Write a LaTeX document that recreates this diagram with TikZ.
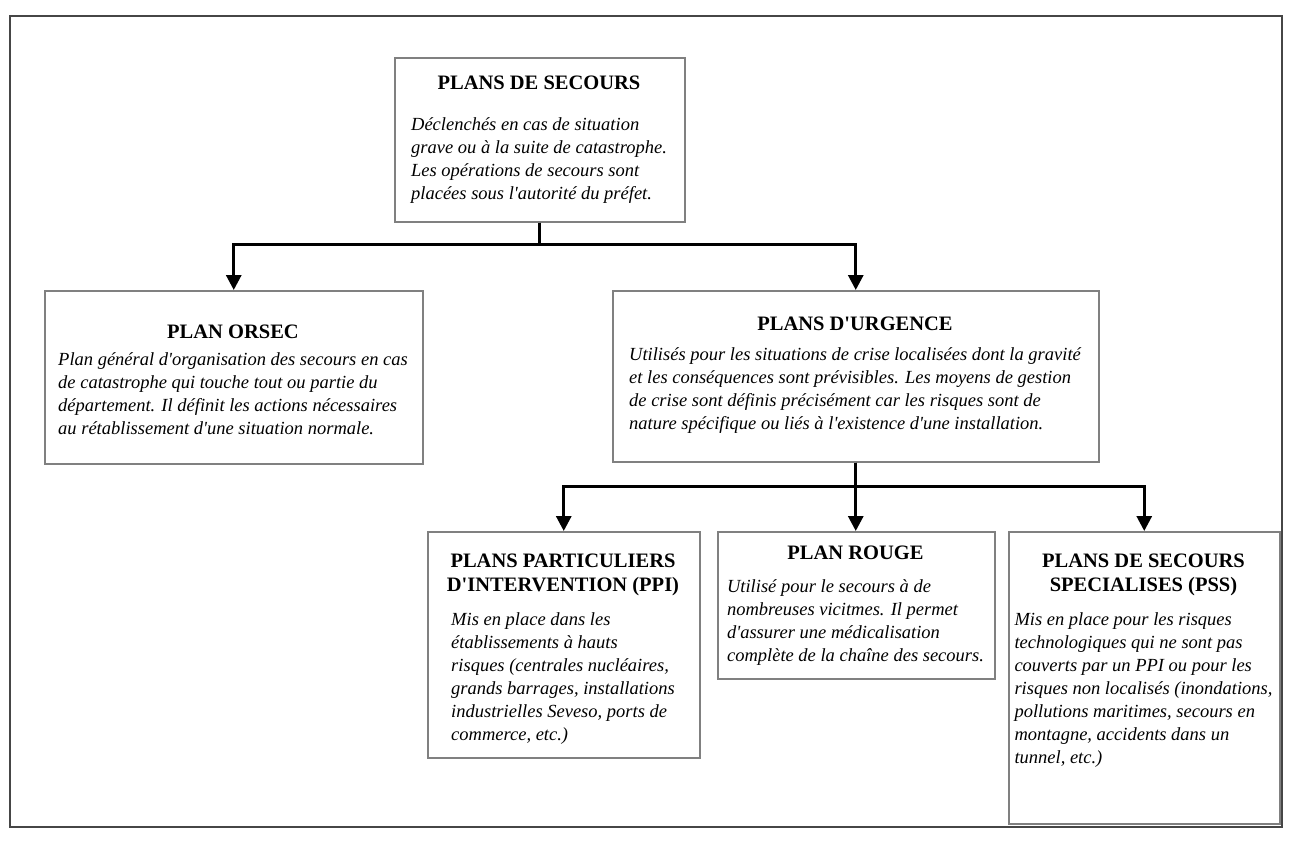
\documentclass[tikz,border=0pt]{standalone}
\usepackage{fontspec}
\setmainfont{Liberation Serif}[Ligatures=TeXOff]
\usetikzlibrary{arrows.meta}
\definecolor{boxgray}{RGB}{128,128,128}
\definecolor{framegray}{RGB}{70,70,70}
\begin{document}
\begin{tikzpicture}[x=0.5pt,y=-0.5pt,
  box/.style={draw=boxgray,line width=0.75pt,fill=white,inner sep=0pt,anchor=north west},
  ttl/.style={font=\fontsize{10.25}{12}\selectfont\bfseries,align=center,inner sep=0pt},
  txt/.style={font=\fontsize{9.25}{11.5}\selectfont\itshape,align=left,inner sep=0pt,anchor=north},
  conn/.style={line width=1.5pt,draw=black},
  arr/.style={conn,-{Triangle[width=7.5pt,length=7.5pt]}}]
\useasboundingbox (0,0) rectangle (1316,864);
\draw[framegray,line width=0.9pt] (10,16) rectangle (1282,827);

% boxes
\node[box,minimum width=145pt,minimum height=82pt] (top) at (394,57) {};
\node[box,minimum width=189pt,minimum height=86.5pt] (orsec) at (44,290) {};
\node[box,minimum width=243pt,minimum height=85.5pt] (urg) at (612,290) {};
\node[box,minimum width=136pt,minimum height=113pt] (ppi) at (427,531) {};
\node[box,minimum width=138.5pt,minimum height=73.5pt] (rouge) at (717,531) {};
\node[box,minimum width=135.5pt,minimum height=146pt] (pss) at (1008,531) {};

% titles
\node[ttl] (topT) at (539,83) {PLANS DE SECOURS};
\node[ttl] (orsecT) at (233,332) {PLAN ORSEC};
\node[ttl] (urgT) at (855,324) {PLANS D'URGENCE};
\node[ttl] (ppiT) at (563,575) {PLANS PARTICULIERS\\D'INTERVENTION (PPI)};
\node[ttl] (rougeT) at (855.5,553) {PLAN ROUGE};
\node[ttl] (pssT) at (1143.5,575) {PLANS DE SECOURS\\SPECIALISES (PSS)};

% bodies
\node[txt] (topB) at (539,114) {\strut Déclenchés en cas de situation\\grave ou à la suite de catastrophe.\\Les opérations de secours sont\\placées sous l'autorité du préfet.};
\node[txt] (orsecB) at (233,349) {\strut Plan général d'organisation des secours en cas\\de catastrophe qui touche tout ou partie du\\département. Il définit les actions nécessaires\\au rétablissement d'une situation normale.};
\node[txt] (urgB) at (855,344) {\strut Utilisés pour les situations de crise localisées dont la gravité\\et les conséquences sont prévisibles. Les moyens de gestion\\de crise sont définis précisément car les risques sont de\\nature spécifique ou liés à l'existence d'une installation.};
\node[txt] (ppiB) at (563,609) {\strut Mis en place dans les\\établissements à hauts\\risques (centrales nucléaires,\\grands barrages, installations\\industrielles Seveso, ports de\\commerce, etc.)};
\node[txt] (rougeB) at (855.5,576) {\strut Utilisé pour le secours à de\\nombreuses vicitmes. Il permet\\d'assurer une médicalisation\\complète de la chaîne des secours.};
\node[txt] (pssB) at (1143.5,609) {\strut Mis en place pour les risques\\technologiques qui ne sont pas\\couverts par un PPI ou pour les\\risques non localisés (inondations,\\pollutions maritimes, secours en\\montagne, accidents dans un\\tunnel, etc.)};

% connectors
\draw[arr] (top.south) -- ++(0,22) -| (orsec.north);
\draw[arr] (top.south) -- ++(0,22) -| (urg.north);
\draw[arr] (urg.south) -- ++(0,24) -| (ppi.north);
\draw[arr] (urg.south) -- (urg.south |- rouge.north);
\draw[arr] (urg.south) -- ++(0,24) -| (pss.north);
\end{tikzpicture}
\end{document}
